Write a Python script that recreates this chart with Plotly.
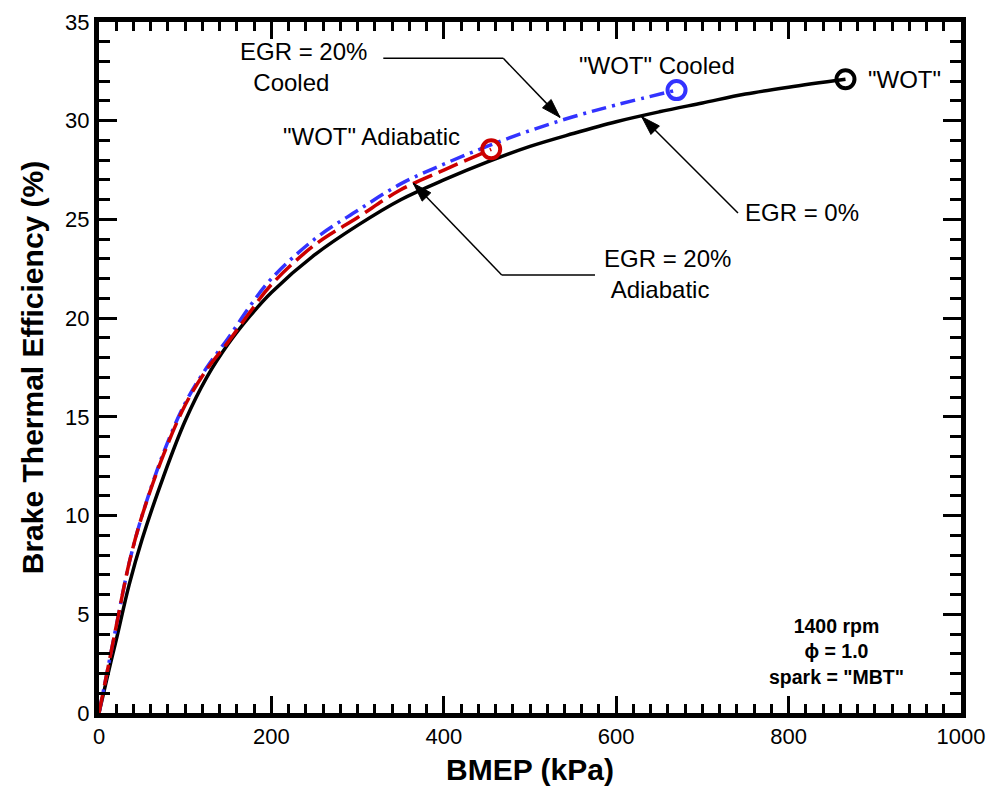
import plotly.graph_objects as go

# ---------------- data ----------------
egr0_x = [0, 10, 20, 35, 50, 75, 100, 125, 150, 175, 200, 250, 300, 350, 400, 450, 500, 550, 600, 650, 700, 750, 800, 866]
egr0_y = [0, 1.9, 3.7, 6.5, 8.8, 12.0, 14.8, 17.0, 18.7, 20.1, 21.3, 23.2, 24.7, 26.0, 27.0, 27.9, 28.7, 29.35, 29.95, 30.45, 30.9, 31.35, 31.7, 32.1]

egr20_adi_x = [0, 10, 20, 35, 50, 75, 100, 125, 150, 175, 200, 250, 300, 350, 400, 455]
egr20_adi_y = [0, 2.2, 4.4, 7.6, 10.0, 13.1, 15.6, 17.4, 18.8, 20.3, 21.7, 23.7, 25.1, 26.5, 27.5, 28.55]

egr20_cool_x = [0, 10, 20, 35, 50, 75, 100, 125, 150, 175, 200, 250, 300, 350, 400, 450, 500, 550, 600, 670]
egr20_cool_y = [0, 2.2, 4.4, 7.6, 10.0, 13.2, 15.7, 17.5, 19.0, 20.6, 22.0, 24.0, 25.45, 26.8, 27.8, 28.7, 29.5, 30.2, 30.8, 31.55]

wot_x = [866, 670, 455]
wot_y = [32.1, 31.55, 28.55]
wot_colors = ["black", "#3333ff", "#cc0000"]

x_range = [0, 1000]
y_range = [0, 35]

# ---------------- figure ----------------
W, H = 992, 789
ML, MR, MT, MB = 99, 31, 22, 76
PW, PH = W - ML - MR, H - MT - MB
sx = PW / (x_range[1] - x_range[0])
sy = PH / (y_range[1] - y_range[0])

FONT = "Liberation Sans, Arial, sans-serif"

fig = go.Figure()

fig.add_trace(go.Scatter(x=egr0_x, y=egr0_y, mode="lines", line=dict(color="black", width=3.5),
                         line_shape="spline", showlegend=False))
fig.add_trace(go.Scatter(x=egr20_cool_x, y=egr20_cool_y, mode="lines",
                         line=dict(color="#3333ff", width=3.5, dash="15px,6px,3px,6px"),
                         line_shape="spline", showlegend=False))
fig.add_trace(go.Scatter(x=egr20_adi_x, y=egr20_adi_y, mode="lines",
                         line=dict(color="#cc0000", width=3.5, dash="21px,7px"),
                         line_shape="spline", showlegend=False))
fig.add_trace(go.Scatter(x=wot_x, y=wot_y, mode="markers",
                         marker=dict(symbol="circle-open", size=18, color=wot_colors,
                                     line=dict(width=4, color=wot_colors)),
                         showlegend=False))

# ---------------- leader lines & arrowheads ----------------
leaders = [
    [(329.8, 33.16), (469, 33.16), (534.8, 30.17)],
    [(741.3, 25.33), (629.6, 30.2)],
    [(575.4, 22.19), (467.2, 22.19), (364.6, 26.83)],
]
shapes = []
for pts in leaders:
    for (x0, y0), (x1, y1) in zip(pts[:-1], pts[1:]):
        shapes.append(dict(type="line", xref="x", yref="y", x0=x0, y0=y0, x1=x1, y1=y1,
                           line=dict(color="black", width=1.5)))
    (tx, ty), (bx, by) = pts[-1], pts[-2]
    dxp = (tx - bx) * sx
    dyp = -(ty - by) * sy
    L = (dxp ** 2 + dyp ** 2) ** 0.5
    ux, uy = dxp / L, dyp / L
    hl, hw = 19, 6
    px0, py0 = -ux * hl, -uy * hl
    pa = (px0 - uy * hw, py0 + ux * hw)
    pb = (px0 + uy * hw, py0 - ux * hw)

    def to_data(p):
        return tx + p[0] / sx, ty - p[1] / sy
    a = to_data(pa)
    b = to_data(pb)
    path = f"M {tx},{ty} L {a[0]},{a[1]} L {b[0]},{b[1]} Z"
    shapes.append(dict(type="path", xref="x", yref="y", path=path,
                       fillcolor="black", line=dict(color="black", width=1)))

# ---------------- text ----------------
# (text, x, y, size, bold, xanchor, align)
texts = [
    ("EGR = 20%<br>&nbsp;&nbsp;Cooled", 161.3, 32.72, 24, False, "left", "left"),
    ("\"WOT\" Adiabatic", 316.4, 29.19, 24, False, "center", "center"),
    ("\"WOT\" Cooled", 647, 32.82, 24, False, "center", "center"),
    ("\"WOT\"", 935, 32.1, 24, False, "center", "center"),
    ("EGR = 0%", 816.1, 25.34, 24, False, "center", "center"),
    ("EGR = 20%<br>&nbsp;Adiabatic", 583.2, 22.23, 24, False, "left", "left"),
    ("<b>1400 rpm</b><br><b>ϕ = 1.0</b><br><b>spark = \"MBT\"</b>", 855.0, 3.12, 19.5, True, "center", "center"),
]
annotations = []
for t, x, y, fs, bold, xa, al in texts:
    annotations.append(dict(text=t, x=x, y=y, xref="x", yref="y",
                            showarrow=False, xanchor=xa, yanchor="middle", align=al,
                            font=dict(family=FONT, size=fs, color="black")))

axis_common = dict(
    showline=True, linewidth=5, linecolor="black", mirror="ticks",
    ticks="inside", tickwidth=2.5, tickcolor="black",
    showgrid=False, zeroline=False, automargin=False,
    tickfont=dict(family=FONT, size=22, color="black"),
)

fig.update_layout(
    width=W, height=H,
    margin=dict(l=ML, r=MR, t=MT, b=MB),
    plot_bgcolor="white", paper_bgcolor="white",
    xaxis=dict(range=x_range, dtick=200, ticklen=17,
               minor=dict(ticks="inside", dtick=20, ticklen=9, tickwidth=2.5, tickcolor="black"),
               title=dict(text="<b>BMEP (kPa)</b>", font=dict(family=FONT, size=30, color="black"), standoff=12),
               **axis_common),
    yaxis=dict(range=y_range, dtick=5, ticklen=18,
               minor=dict(ticks="inside", dtick=1, ticklen=11, tickwidth=2.5, tickcolor="black"),
               title=dict(text="<b>Brake Thermal Efficiency (%)</b>", font=dict(family=FONT, size=30, color="black"), standoff=14),
               **axis_common),
    shapes=shapes,
    annotations=annotations,
)

fig.write_html("out.html")
